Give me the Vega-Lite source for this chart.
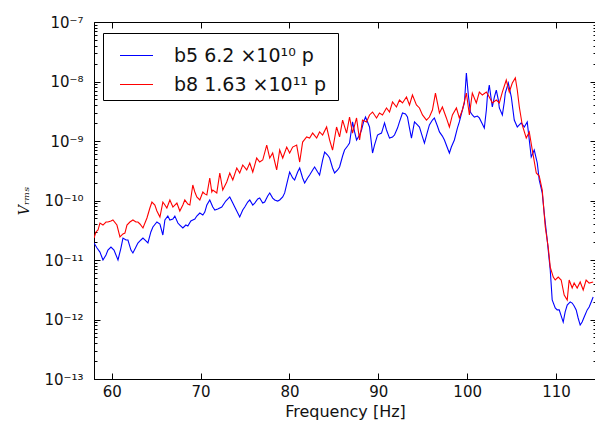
{
  "$schema": "https://vega.github.io/schema/vega-lite/v6.json",
  "width": 502,
  "height": 357,
  "autosize": "none",
  "padding": {"left": 94, "top": 22, "right": 0, "bottom": 48},
  "background": "white",
  "config": {
    "view": {"stroke": "black", "strokeWidth": 1},
    "axis": {"grid": false, "domainColor": "black", "tickColor": "black", "labelColor": "#111", "titleColor": "#111", "labelFont": "DejaVu Sans", "titleFont": "DejaVu Sans", "labelFontSize": 15, "titleFontWeight": "normal"},
    "legend": {"orient": "none", "legendX": 9, "legendY": 11, "strokeColor": "black", "fillColor": "white", "padding": 5, "symbolType": "stroke", "symbolSize": 1089, "symbolStrokeWidth": 1.2, "symbolOffset": 11, "labelOffset": 20, "labelFontSize": 19, "labelFont": "DejaVu Sans", "labelColor": "#111", "rowPadding": 1, "labelLimit": 0}
  },
  "datasets": {
    "curves": [
      {"s":"b5","f":58.00,"v":1.93e-11},{"s":"b5","f":58.34,"v":1.59e-11},{"s":"b5","f":58.67,"v":1.36e-11},{"s":"b5","f":59.01,"v":1.0e-11},{"s":"b5","f":59.35,"v":1.21e-11},{"s":"b5","f":59.57,"v":1.47e-11},{"s":"b5","f":59.91,"v":1.65e-11},{"s":"b5","f":60.25,"v":1.47e-11},{"s":"b5","f":60.70,"v":1.0e-11},{"s":"b5","f":61.03,"v":1.59e-11},{"s":"b5","f":61.26,"v":2.34e-11},{"s":"b5","f":61.60,"v":2.17e-11},{"s":"b5","f":61.82,"v":2.17e-11},{"s":"b5","f":62.16,"v":1.47e-11},{"s":"b5","f":62.38,"v":1.31e-11},{"s":"b5","f":62.72,"v":1.65e-11},{"s":"b5","f":62.94,"v":1.93e-11},{"s":"b5","f":63.28,"v":2.17e-11},{"s":"b5","f":63.51,"v":2.34e-11},{"s":"b5","f":63.84,"v":2.09e-11},{"s":"b5","f":64.07,"v":1.93e-11},{"s":"b5","f":64.40,"v":2.96e-11},{"s":"b5","f":64.63,"v":3.59e-11},{"s":"b5","f":65.08,"v":4.35e-11},{"s":"b5","f":65.42,"v":4.03e-11},{"s":"b5","f":65.75,"v":2.63e-11},{"s":"b5","f":65.98,"v":4.70e-11},{"s":"b5","f":66.31,"v":5.48e-11},{"s":"b5","f":66.54,"v":4.70e-11},{"s":"b5","f":66.88,"v":4.88e-11},{"s":"b5","f":67.10,"v":5.48e-11},{"s":"b5","f":67.44,"v":4.18e-11},{"s":"b5","f":67.66,"v":3.87e-11},{"s":"b5","f":68.00,"v":3.45e-11},{"s":"b5","f":68.34,"v":3.87e-11},{"s":"b5","f":68.56,"v":3.73e-11},{"s":"b5","f":68.90,"v":4.52e-11},{"s":"b5","f":69.12,"v":4.70e-11},{"s":"b5","f":69.35,"v":4.88e-11},{"s":"b5","f":69.57,"v":5.48e-11},{"s":"b5","f":69.91,"v":6.16e-11},{"s":"b5","f":70.25,"v":5.70e-11},{"s":"b5","f":70.47,"v":6.40e-11},{"s":"b5","f":70.70,"v":8.39e-11},{"s":"b5","f":71.03,"v":1.02e-10},{"s":"b5","f":71.37,"v":7.76e-11},{"s":"b5","f":71.60,"v":6.91e-11},{"s":"b5","f":71.93,"v":7.19e-11},{"s":"b5","f":72.38,"v":7.76e-11},{"s":"b5","f":72.83,"v":9.79e-11},{"s":"b5","f":73.28,"v":1.15e-10},{"s":"b5","f":73.62,"v":9.06e-11},{"s":"b5","f":73.84,"v":7.76e-11},{"s":"b5","f":74.18,"v":6.16e-11},{"s":"b5","f":74.40,"v":5.28e-11},{"s":"b5","f":74.74,"v":6.91e-11},{"s":"b5","f":74.97,"v":7.76e-11},{"s":"b5","f":75.30,"v":9.42e-11},{"s":"b5","f":75.53,"v":1.02e-10},{"s":"b5","f":75.87,"v":8.39e-11},{"s":"b5","f":76.09,"v":9.06e-11},{"s":"b5","f":76.43,"v":1.06e-10},{"s":"b5","f":76.65,"v":1.10e-10},{"s":"b5","f":76.99,"v":9.06e-11},{"s":"b5","f":77.21,"v":9.42e-11},{"s":"b5","f":77.55,"v":1.19e-10},{"s":"b5","f":77.78,"v":1.34e-10},{"s":"b5","f":78.11,"v":1.10e-10},{"s":"b5","f":78.34,"v":1.02e-10},{"s":"b5","f":78.67,"v":9.79e-11},{"s":"b5","f":78.90,"v":1.02e-10},{"s":"b5","f":79.24,"v":1.15e-10},{"s":"b5","f":79.46,"v":1.34e-10},{"s":"b5","f":79.80,"v":2.21e-10},{"s":"b5","f":80.02,"v":3.01e-10},{"s":"b5","f":80.36,"v":2.39e-10},{"s":"b5","f":80.58,"v":2.21e-10},{"s":"b5","f":80.92,"v":3.01e-10},{"s":"b5","f":81.15,"v":3.52e-10},{"s":"b5","f":81.48,"v":2.39e-10},{"s":"b5","f":81.71,"v":1.97e-10},{"s":"b5","f":82.04,"v":2.39e-10},{"s":"b5","f":82.27,"v":2.68e-10},{"s":"b5","f":82.61,"v":3.26e-10},{"s":"b5","f":82.83,"v":3.66e-10},{"s":"b5","f":83.17,"v":3.01e-10},{"s":"b5","f":83.39,"v":2.68e-10},{"s":"b5","f":83.73,"v":4.79e-10},{"s":"b5","f":83.96,"v":6.52e-10},{"s":"b5","f":84.29,"v":5.81e-10},{"s":"b5","f":84.52,"v":5.17e-10},{"s":"b5","f":84.85,"v":3.52e-10},{"s":"b5","f":85.08,"v":2.90e-10},{"s":"b5","f":85.42,"v":3.26e-10},{"s":"b5","f":85.64,"v":3.66e-10},{"s":"b5","f":85.98,"v":5.59e-10},{"s":"b5","f":86.20,"v":7.05e-10},{"s":"b5","f":86.54,"v":8.23e-10},{"s":"b5","f":86.76,"v":9.24e-10},{"s":"b5","f":87.10,"v":2.09e-9},{"s":"b5","f":87.33,"v":1.42e-9},{"s":"b5","f":87.55,"v":1.04e-9},{"s":"b5","f":87.89,"v":1.26e-9},{"s":"b5","f":88.11,"v":1.53e-9},{"s":"b5","f":88.34,"v":2.09e-9},{"s":"b5","f":88.56,"v":2.53e-9},{"s":"b5","f":88.79,"v":2.09e-9},{"s":"b5","f":89.01,"v":1.72e-9},{"s":"b5","f":89.35,"v":6.28e-10},{"s":"b5","f":89.57,"v":8.55e-10},{"s":"b5","f":89.91,"v":1.26e-9},{"s":"b5","f":90.13,"v":1.31e-9},{"s":"b5","f":90.36,"v":1.36e-9},{"s":"b5","f":90.70,"v":2.01e-9},{"s":"b5","f":90.92,"v":1.53e-9},{"s":"b5","f":91.26,"v":1.12e-9},{"s":"b5","f":91.60,"v":1.17e-9},{"s":"b5","f":91.82,"v":1.26e-9},{"s":"b5","f":92.16,"v":1.65e-9},{"s":"b5","f":92.38,"v":2.09e-9},{"s":"b5","f":92.72,"v":2.96e-9},{"s":"b5","f":93.06,"v":2.84e-9},{"s":"b5","f":93.28,"v":2.53e-9},{"s":"b5","f":93.51,"v":1.65e-9},{"s":"b5","f":93.73,"v":1.12e-9},{"s":"b5","f":94.07,"v":2.09e-9},{"s":"b5","f":94.40,"v":1.86e-9},{"s":"b5","f":94.63,"v":1.72e-9},{"s":"b5","f":94.97,"v":1.17e-9},{"s":"b5","f":95.19,"v":9.24e-10},{"s":"b5","f":95.53,"v":1.42e-9},{"s":"b5","f":95.75,"v":1.86e-9},{"s":"b5","f":96.09,"v":2.25e-9},{"s":"b5","f":96.31,"v":2.44e-9},{"s":"b5","f":96.65,"v":1.79e-9},{"s":"b5","f":96.88,"v":1.42e-9},{"s":"b5","f":97.21,"v":1.21e-9},{"s":"b5","f":97.44,"v":1.04e-9},{"s":"b5","f":97.78,"v":7.61e-10},{"s":"b5","f":98.00,"v":6.28e-10},{"s":"b5","f":98.22,"v":7.91e-10},{"s":"b5","f":98.56,"v":1.04e-9},{"s":"b5","f":98.90,"v":1.65e-9},{"s":"b5","f":99.12,"v":2.09e-9},{"s":"b5","f":99.46,"v":3.32e-9},{"s":"b5","f":99.69,"v":4.35e-9},{"s":"b5","f":99.91,"v":1.39e-8},{"s":"b5","f":100.13,"v":5.92e-9},{"s":"b5","f":100.36,"v":3.07e-9},{"s":"b5","f":100.58,"v":2.74e-9},{"s":"b5","f":100.81,"v":2.53e-9},{"s":"b5","f":101.15,"v":2.63e-9},{"s":"b5","f":101.37,"v":2.44e-9},{"s":"b5","f":101.71,"v":1.93e-9},{"s":"b5","f":101.93,"v":1.65e-9},{"s":"b5","f":102.16,"v":3.32e-9},{"s":"b5","f":102.27,"v":5.48e-9},{"s":"b5","f":102.49,"v":8.72e-9},{"s":"b5","f":102.72,"v":4.88e-9},{"s":"b5","f":102.83,"v":3.73e-9},{"s":"b5","f":103.06,"v":5.48e-9},{"s":"b5","f":103.28,"v":7.19e-9},{"s":"b5","f":103.51,"v":4.88e-9},{"s":"b5","f":103.62,"v":3.59e-9},{"s":"b5","f":103.96,"v":2.74e-9},{"s":"b5","f":104.18,"v":4.52e-9},{"s":"b5","f":104.29,"v":6.40e-9},{"s":"b5","f":104.63,"v":9.42e-9},{"s":"b5","f":104.85,"v":6.65e-9},{"s":"b5","f":104.97,"v":5.48e-9},{"s":"b5","f":105.30,"v":2.25e-9},{"s":"b5","f":105.64,"v":1.72e-9},{"s":"b5","f":105.87,"v":1.86e-9},{"s":"b5","f":106.09,"v":2.01e-9},{"s":"b5","f":106.43,"v":1.72e-9},{"s":"b5","f":106.76,"v":2.09e-9},{"s":"b5","f":106.99,"v":1.04e-9},{"s":"b5","f":107.21,"v":5.38e-10},{"s":"b5","f":107.55,"v":7.05e-10},{"s":"b5","f":107.89,"v":4.27e-10},{"s":"b5","f":108.11,"v":2.21e-10},{"s":"b5","f":108.45,"v":1.34e-10},{"s":"b5","f":108.67,"v":6.16e-11},{"s":"b5","f":109.01,"v":2.17e-11},{"s":"b5","f":109.35,"v":6.78e-12},{"s":"b5","f":109.57,"v":2.13e-12},{"s":"b5","f":109.91,"v":1.56e-12},{"s":"b5","f":110.13,"v":1.45e-12},{"s":"b5","f":110.36,"v":1.45e-12},{"s":"b5","f":110.58,"v":1.15e-12},{"s":"b5","f":110.81,"v":9.06e-13},{"s":"b5","f":111.03,"v":1.34e-12},{"s":"b5","f":111.26,"v":1.75e-12},{"s":"b5","f":111.60,"v":1.97e-12},{"s":"b5","f":111.82,"v":1.89e-12},{"s":"b5","f":112.04,"v":1.69e-12},{"s":"b5","f":112.27,"v":1.45e-12},{"s":"b5","f":112.49,"v":1.06e-12},{"s":"b5","f":112.72,"v":8.07e-13},{"s":"b5","f":112.94,"v":9.06e-13},{"s":"b5","f":113.17,"v":1.10e-12},{"s":"b5","f":113.51,"v":1.45e-12},{"s":"b5","f":113.73,"v":1.62e-12},{"s":"b5","f":113.96,"v":1.97e-12},{"s":"b5","f":114.18,"v":2.39e-12},
      {"s":"b8","f":58.00,"v":2.34e-11},{"s":"b8","f":58.22,"v":2.96e-11},{"s":"b8","f":58.45,"v":3.19e-11},{"s":"b8","f":58.67,"v":4.18e-11},{"s":"b8","f":59.01,"v":3.87e-11},{"s":"b8","f":59.35,"v":4.35e-11},{"s":"b8","f":59.57,"v":4.35e-11},{"s":"b8","f":59.91,"v":4.52e-11},{"s":"b8","f":60.13,"v":4.70e-11},{"s":"b8","f":60.58,"v":3.87e-11},{"s":"b8","f":60.92,"v":2.44e-11},{"s":"b8","f":61.26,"v":2.74e-11},{"s":"b8","f":61.48,"v":2.84e-11},{"s":"b8","f":61.71,"v":3.87e-11},{"s":"b8","f":62.04,"v":4.35e-11},{"s":"b8","f":62.38,"v":4.70e-11},{"s":"b8","f":62.72,"v":4.35e-11},{"s":"b8","f":62.94,"v":4.35e-11},{"s":"b8","f":63.17,"v":4.03e-11},{"s":"b8","f":63.51,"v":3.45e-11},{"s":"b8","f":63.96,"v":5.08e-11},{"s":"b8","f":64.29,"v":7.47e-11},{"s":"b8","f":64.52,"v":9.42e-11},{"s":"b8","f":64.85,"v":8.39e-11},{"s":"b8","f":65.08,"v":6.65e-11},{"s":"b8","f":65.42,"v":5.28e-11},{"s":"b8","f":65.75,"v":9.42e-11},{"s":"b8","f":65.98,"v":8.39e-11},{"s":"b8","f":66.20,"v":7.47e-11},{"s":"b8","f":66.54,"v":1.02e-10},{"s":"b8","f":66.88,"v":7.76e-11},{"s":"b8","f":67.10,"v":8.39e-11},{"s":"b8","f":67.33,"v":9.06e-11},{"s":"b8","f":67.66,"v":6.65e-11},{"s":"b8","f":68.00,"v":8.39e-11},{"s":"b8","f":68.22,"v":1.02e-10},{"s":"b8","f":68.56,"v":8.72e-11},{"s":"b8","f":68.79,"v":8.39e-11},{"s":"b8","f":69.12,"v":1.82e-10},{"s":"b8","f":69.35,"v":1.39e-10},{"s":"b8","f":69.57,"v":1.15e-10},{"s":"b8","f":69.91,"v":1.02e-10},{"s":"b8","f":70.25,"v":1.39e-10},{"s":"b8","f":70.47,"v":1.29e-10},{"s":"b8","f":70.70,"v":1.24e-10},{"s":"b8","f":71.03,"v":2.39e-10},{"s":"b8","f":71.26,"v":1.39e-10},{"s":"b8","f":71.37,"v":1.50e-10},{"s":"b8","f":71.82,"v":1.34e-10},{"s":"b8","f":72.16,"v":2.90e-10},{"s":"b8","f":72.49,"v":1.50e-10},{"s":"b8","f":72.94,"v":2.05e-10},{"s":"b8","f":73.28,"v":2.90e-10},{"s":"b8","f":73.62,"v":2.21e-10},{"s":"b8","f":74.07,"v":3.52e-10},{"s":"b8","f":74.40,"v":2.90e-10},{"s":"b8","f":74.74,"v":3.95e-10},{"s":"b8","f":75.19,"v":3.26e-10},{"s":"b8","f":75.53,"v":4.27e-10},{"s":"b8","f":75.87,"v":3.01e-10},{"s":"b8","f":76.31,"v":5.17e-10},{"s":"b8","f":76.65,"v":4.43e-10},{"s":"b8","f":76.99,"v":4.79e-10},{"s":"b8","f":77.44,"v":8.55e-10},{"s":"b8","f":77.78,"v":5.17e-10},{"s":"b8","f":78.11,"v":6.28e-10},{"s":"b8","f":78.56,"v":3.26e-10},{"s":"b8","f":78.90,"v":7.05e-10},{"s":"b8","f":79.24,"v":5.17e-10},{"s":"b8","f":79.69,"v":7.91e-10},{"s":"b8","f":80.02,"v":6.28e-10},{"s":"b8","f":80.36,"v":7.91e-10},{"s":"b8","f":80.81,"v":8.55e-10},{"s":"b8","f":81.15,"v":4.43e-10},{"s":"b8","f":81.48,"v":9.60e-10},{"s":"b8","f":81.93,"v":1.17e-9},{"s":"b8","f":82.27,"v":1.12e-9},{"s":"b8","f":82.61,"v":1.36e-9},{"s":"b8","f":83.06,"v":1.12e-9},{"s":"b8","f":83.39,"v":1.42e-9},{"s":"b8","f":83.73,"v":1.26e-9},{"s":"b8","f":84.18,"v":1.72e-9},{"s":"b8","f":84.52,"v":1.04e-9},{"s":"b8","f":84.85,"v":7.05e-10},{"s":"b8","f":85.30,"v":1.72e-9},{"s":"b8","f":85.64,"v":1.17e-9},{"s":"b8","f":85.98,"v":2.25e-9},{"s":"b8","f":86.43,"v":1.36e-9},{"s":"b8","f":86.76,"v":2.53e-9},{"s":"b8","f":87.10,"v":1.36e-9},{"s":"b8","f":87.55,"v":2.44e-9},{"s":"b8","f":87.89,"v":1.04e-9},{"s":"b8","f":88.22,"v":2.25e-9},{"s":"b8","f":88.67,"v":2.09e-9},{"s":"b8","f":89.01,"v":2.74e-9},{"s":"b8","f":89.35,"v":3.07e-9},{"s":"b8","f":89.80,"v":2.44e-9},{"s":"b8","f":90.13,"v":2.96e-9},{"s":"b8","f":90.47,"v":2.74e-9},{"s":"b8","f":90.92,"v":3.59e-9},{"s":"b8","f":91.26,"v":3.07e-9},{"s":"b8","f":91.60,"v":4.52e-9},{"s":"b8","f":92.04,"v":3.73e-9},{"s":"b8","f":92.38,"v":4.88e-9},{"s":"b8","f":92.72,"v":4.35e-9},{"s":"b8","f":93.17,"v":5.48e-9},{"s":"b8","f":93.51,"v":4.03e-9},{"s":"b8","f":93.84,"v":5.92e-9},{"s":"b8","f":94.29,"v":4.03e-9},{"s":"b8","f":94.63,"v":3.59e-9},{"s":"b8","f":94.97,"v":2.74e-9},{"s":"b8","f":95.42,"v":2.25e-9},{"s":"b8","f":95.75,"v":2.53e-9},{"s":"b8","f":96.09,"v":3.32e-9},{"s":"b8","f":96.43,"v":6.40e-9},{"s":"b8","f":96.88,"v":2.96e-9},{"s":"b8","f":97.21,"v":3.73e-9},{"s":"b8","f":97.66,"v":2.44e-9},{"s":"b8","f":98.00,"v":1.72e-9},{"s":"b8","f":98.34,"v":2.74e-9},{"s":"b8","f":98.79,"v":3.59e-9},{"s":"b8","f":99.12,"v":2.44e-9},{"s":"b8","f":99.46,"v":3.32e-9},{"s":"b8","f":99.91,"v":6.40e-9},{"s":"b8","f":100.25,"v":2.74e-9},{"s":"b8","f":100.58,"v":6.40e-9},{"s":"b8","f":101.03,"v":4.35e-9},{"s":"b8","f":101.37,"v":6.65e-9},{"s":"b8","f":101.71,"v":5.92e-9},{"s":"b8","f":102.16,"v":6.65e-9},{"s":"b8","f":102.49,"v":5.48e-9},{"s":"b8","f":102.83,"v":4.35e-9},{"s":"b8","f":103.28,"v":4.88e-9},{"s":"b8","f":103.62,"v":4.35e-9},{"s":"b8","f":103.96,"v":6.65e-9},{"s":"b8","f":104.40,"v":1.06e-8},{"s":"b8","f":104.74,"v":6.65e-9},{"s":"b8","f":105.08,"v":9.42e-9},{"s":"b8","f":105.42,"v":1.15e-8},{"s":"b8","f":105.64,"v":7.19e-9},{"s":"b8","f":105.87,"v":3.73e-9},{"s":"b8","f":106.20,"v":1.86e-9},{"s":"b8","f":106.65,"v":1.12e-9},{"s":"b8","f":106.99,"v":1.42e-9},{"s":"b8","f":107.33,"v":7.05e-10},{"s":"b8","f":107.78,"v":2.90e-10},{"s":"b8","f":108.11,"v":2.58e-10},{"s":"b8","f":108.45,"v":1.50e-10},{"s":"b8","f":108.79,"v":3.59e-11},{"s":"b8","f":109.12,"v":1.65e-11},{"s":"b8","f":109.35,"v":7.61e-12},{"s":"b8","f":109.69,"v":5.17e-12},{"s":"b8","f":109.91,"v":4.61e-12},{"s":"b8","f":110.25,"v":5.17e-12},{"s":"b8","f":110.58,"v":4.61e-12},{"s":"b8","f":110.92,"v":2.58e-12},{"s":"b8","f":111.26,"v":2.13e-12},{"s":"b8","f":111.48,"v":4.61e-12},{"s":"b8","f":111.82,"v":3.38e-12},{"s":"b8","f":112.04,"v":4.10e-12},{"s":"b8","f":112.38,"v":3.38e-12},{"s":"b8","f":112.72,"v":4.27e-12},{"s":"b8","f":113.06,"v":3.13e-12},{"s":"b8","f":113.39,"v":4.61e-12},{"s":"b8","f":113.73,"v":4.10e-12},{"s":"b8","f":114.18,"v":4.27e-12}
    ]
  },
  "layer": [
    {
      "data": {"name": "curves"},
      "mark": {"type": "line", "strokeWidth": 1.1, "clip": true},
      "encoding": {
        "x": {"field": "f", "type": "quantitative", "scale": {"domain": [58, 114.5], "nice": false, "zero": false},
          "axis": {"orient": "bottom", "values": [60, 70, 80, 90, 100, 110], "tickSize": -6, "labelPadding": 11, "title": "Frequency [Hz]", "titleFontSize": 16, "titlePadding": 4, "labelFlush": false}},
        "y": {"field": "v", "type": "quantitative", "scale": {"type": "log", "domain": [1e-13, 1e-7], "nice": false},
          "axis": {"orient": "left",
            "values": [1e-13,2e-13,3e-13,4e-13,5e-13,6e-13,7e-13,8e-13,9e-13,1e-12,2e-12,3e-12,4e-12,5e-12,6e-12,7e-12,8e-12,9e-12,1e-11,2e-11,3e-11,4e-11,5e-11,6e-11,7e-11,8e-11,9e-11,1e-10,2e-10,3e-10,4e-10,5e-10,6e-10,7e-10,8e-10,9e-10,1e-9,2e-9,3e-9,4e-9,5e-9,6e-9,7e-9,8e-9,9e-9,1e-8,2e-8,3e-8,4e-8,5e-8,6e-8,7e-8,8e-8,9e-8,1e-7],
            "tickSize": {"condition": {"test": "abs(log(datum.value)/LN10 - round(log(datum.value)/LN10)) < 0.01", "value": -6}, "value": -3},
            "labelPadding": 17,
            "labelOverlap": false,
            "labelFlush": false,
            "labelExpr": "abs(log(datum.value)/LN10 - round(log(datum.value)/LN10)) < 0.01 ? (datum.value > 5e-8 ? '10⁻⁷' : datum.value > 5e-9 ? '10⁻⁸' : datum.value > 5e-10 ? '10⁻⁹' : datum.value > 5e-11 ? '10⁻¹⁰' : datum.value > 5e-12 ? '10⁻¹¹' : datum.value > 5e-13 ? '10⁻¹²' : '10⁻¹³') : ''",
            "title": "Vᵣₘₛ", "titleFont": "DejaVu Serif", "titleFontStyle": "italic", "titleFontSize": 14, "titlePadding": 12}},
        "color": {"field": "s", "type": "nominal", "scale": {"domain": ["b5", "b8"], "range": ["#0000ff", "#ff0000"]},
          "legend": {"title": null, "labelExpr": "datum.label == 'b5' ? 'b5 6.2 ×10¹⁰  p' : 'b8 1.63 ×10¹¹  p'"}}
      }
    },
    {
      "data": {"name": "curves"},
      "mark": {"type": "line", "strokeOpacity": 0, "clip": true},
      "encoding": {
        "x": {"field": "f", "type": "quantitative",
          "axis": {"orient": "top", "values": [60, 70, 80, 90, 100, 110], "tickSize": -6, "labels": false, "domain": false, "title": null}},
        "y": {"field": "v", "type": "quantitative",
          "axis": {"orient": "right",
            "values": [1e-13,2e-13,3e-13,4e-13,5e-13,6e-13,7e-13,8e-13,9e-13,1e-12,2e-12,3e-12,4e-12,5e-12,6e-12,7e-12,8e-12,9e-12,1e-11,2e-11,3e-11,4e-11,5e-11,6e-11,7e-11,8e-11,9e-11,1e-10,2e-10,3e-10,4e-10,5e-10,6e-10,7e-10,8e-10,9e-10,1e-9,2e-9,3e-9,4e-9,5e-9,6e-9,7e-9,8e-9,9e-9,1e-8,2e-8,3e-8,4e-8,5e-8,6e-8,7e-8,8e-8,9e-8,1e-7],
            "tickSize": {"condition": {"test": "abs(log(datum.value)/LN10 - round(log(datum.value)/LN10)) < 0.01", "value": -6}, "value": -3},
            "labels": false, "domain": false, "title": null}},
        "detail": {"field": "s", "type": "nominal"}
      }
    }
  ],
  "resolve": {"axis": {"x": "independent", "y": "independent"}}
}
